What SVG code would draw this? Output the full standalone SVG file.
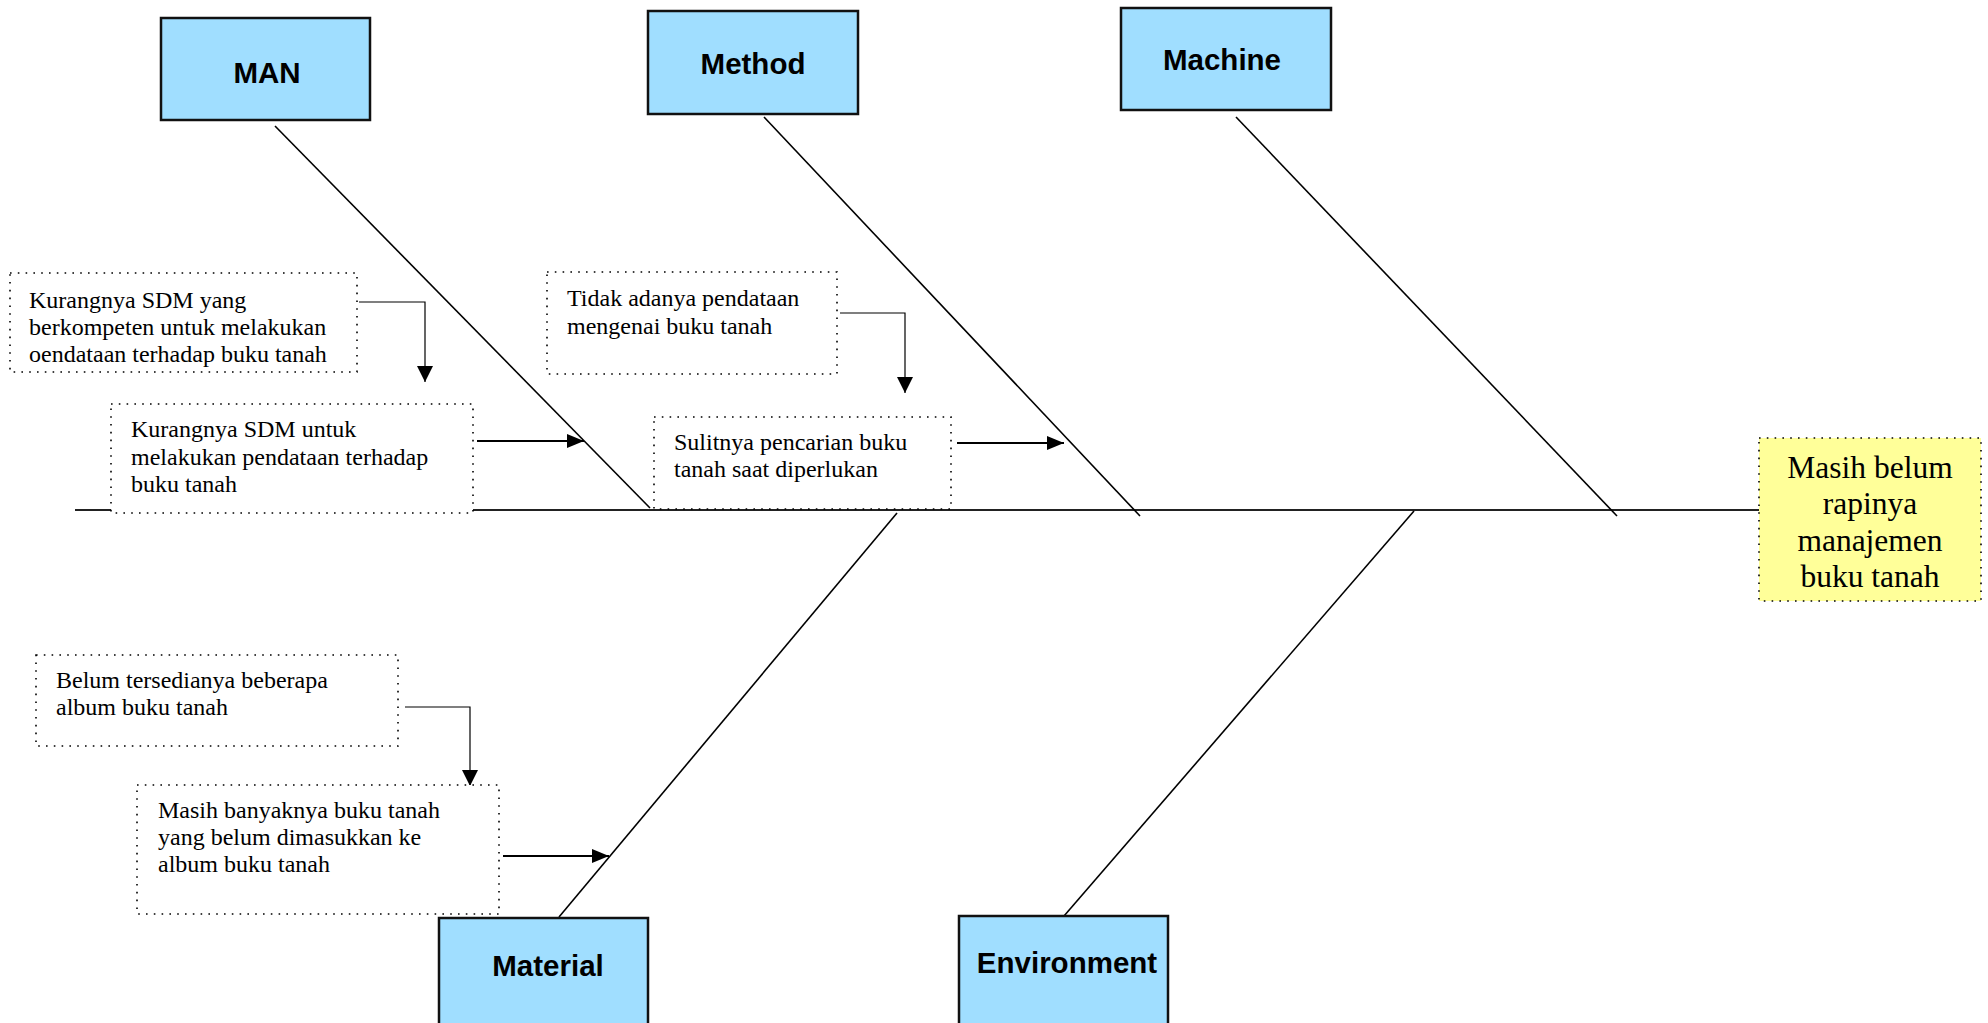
<svg xmlns="http://www.w3.org/2000/svg" width="1988" height="1023" viewBox="0 0 1988 1023">
<defs>
<marker id="ah" markerUnits="userSpaceOnUse" markerWidth="16" markerHeight="16" viewBox="0 0 16 16" refX="16" refY="8" orient="auto">
<path d="M0,0 L16,8 L0,16 Z" fill="#000"/>
</marker>
<marker id="ah2" markerUnits="userSpaceOnUse" markerWidth="17" markerHeight="14" viewBox="0 0 17 14" refX="17" refY="7" orient="auto">
<path d="M0,0 L17,7 L0,14 Z" fill="#000"/>
</marker>
</defs>
<style>
.cat{fill:#A0DEFF;stroke:#111;stroke-width:2.5}
.catt{font-family:"Liberation Sans",Arial,sans-serif;font-weight:bold;font-size:29.5px;fill:#000;text-anchor:middle}
.cause{fill:#fff;stroke:#000;stroke-width:1.6;stroke-dasharray:1.6 6.2}
.ct{font-family:"Liberation Serif","Times New Roman",serif;font-size:24px;fill:#000}
.eff{fill:#FFFF99;stroke:#000;stroke-width:1.6;stroke-dasharray:1.6 6.2}
.et{font-family:"Liberation Serif","Times New Roman",serif;font-size:31.5px;fill:#000;text-anchor:middle}
.bone{stroke:#000;stroke-width:1.6;fill:none}
.spine{stroke:#222;stroke-width:2.2;fill:none}
.thin{stroke:#000;stroke-width:1.2;fill:none;marker-end:url(#ah)}
.thick{stroke:#000;stroke-width:2.2;fill:none;marker-end:url(#ah2)}
</style>
<rect width="1988" height="1023" fill="#fff"/>

<g id="connectors">
<line class="spine" x1="75" y1="510" x2="1759" y2="510"/>
<line class="bone" x1="275" y1="126" x2="650" y2="508"/>
<line class="bone" x1="764" y1="117" x2="1140" y2="516"/>
<line class="bone" x1="1236" y1="117" x2="1617" y2="516"/>
<line class="bone" x1="897" y1="513" x2="559" y2="917"/>
<line class="bone" x1="1414" y1="511" x2="1064" y2="916"/>
<path class="thin" d="M359,302 H425 V382"/>
<path class="thick" d="M477,441 H584"/>
<path class="thin" d="M840,313 H905 V393"/>
<path class="thick" d="M957,443 H1064"/>
<path class="thin" d="M405,707 H470 V786"/>
<path class="thick" d="M503,856 H609"/>
</g>

<g id="man">
<rect class="cat" x="161" y="18" width="209" height="102"/>
<text class="catt" x="267" y="83">MAN</text>
</g>
<g id="method">
<rect class="cat" x="648" y="11" width="210" height="103"/>
<text class="catt" x="753" y="74">Method</text>
</g>
<g id="machine">
<rect class="cat" x="1121" y="8" width="210" height="102"/>
<text class="catt" x="1222" y="70">Machine</text>
</g>
<g id="material">
<rect class="cat" x="439" y="918" width="209" height="110"/>
<text class="catt" x="548" y="976">Material</text>
</g>
<g id="environment">
<rect class="cat" x="959" y="916" width="209" height="112"/>
<text class="catt" x="1067" y="973">Environment</text>
</g>

<g id="effect">
<rect class="eff" x="1759" y="438" width="222" height="163"/>
<text class="et" x="1870" y="478">Masih belum</text>
<text class="et" x="1870" y="514">rapinya</text>
<text class="et" x="1870" y="551">manajemen</text>
<text class="et" x="1870" y="587">buku tanah</text>
</g>

<g id="cause1">
<rect class="cause" x="10" y="273" width="347" height="99"/>
<text class="ct" x="29" y="308">Kurangnya SDM yang</text>
<text class="ct" x="29" y="335">berkompeten untuk melakukan</text>
<text class="ct" x="29" y="362">oendataan terhadap buku tanah</text>
</g>
<g id="cause2">
<rect class="cause" x="111" y="404" width="362" height="109"/>
<text class="ct" x="131" y="437">Kurangnya SDM untuk</text>
<text class="ct" x="131" y="465">melakukan pendataan terhadap</text>
<text class="ct" x="131" y="492">buku tanah</text>
</g>
<g id="cause3">
<rect class="cause" x="547" y="272" width="290" height="102"/>
<text class="ct" x="567" y="306">Tidak adanya pendataan</text>
<text class="ct" x="567" y="334">mengenai buku tanah</text>
</g>
<g id="cause4">
<rect class="cause" x="654" y="417" width="297" height="92"/>
<text class="ct" x="674" y="450">Sulitnya pencarian buku</text>
<text class="ct" x="674" y="477">tanah saat diperlukan</text>
</g>
<g id="cause5">
<rect class="cause" x="36" y="655" width="362" height="91"/>
<text class="ct" x="56" y="688">Belum tersedianya beberapa</text>
<text class="ct" x="56" y="715">album buku tanah</text>
</g>
<g id="cause6">
<rect class="cause" x="137" y="785" width="362" height="129"/>
<text class="ct" x="158" y="818">Masih banyaknya buku tanah</text>
<text class="ct" x="158" y="845">yang belum dimasukkan ke</text>
<text class="ct" x="158" y="872">album buku tanah</text>
</g>
</svg>
